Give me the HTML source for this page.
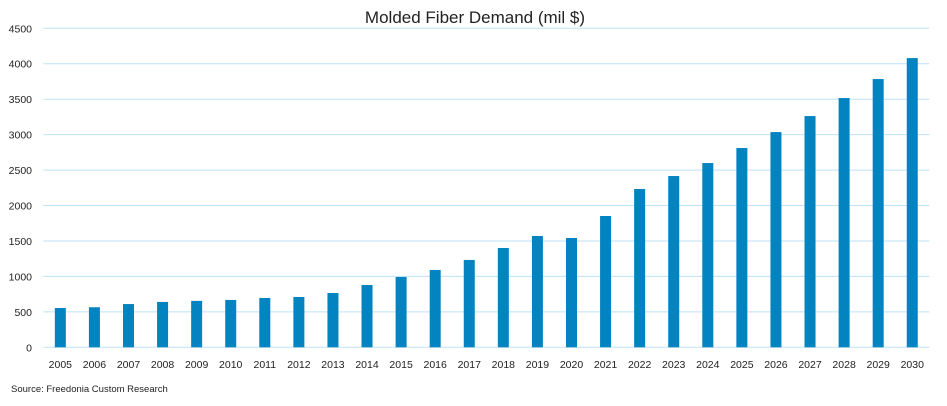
<!DOCTYPE html>
<html><head><meta charset="utf-8"><style>
body{margin:0;background:#fff;font-family:"Liberation Sans",sans-serif}
svg text{font-family:"Liberation Sans",sans-serif}
</style></head><body>
<svg width="947" height="401" xmlns="http://www.w3.org/2000/svg">
<text x="475" y="23" text-anchor="middle" font-size="17" fill="#222">Molded Fiber Demand (mil $)</text>
<g id="grid"></g><g id="bars"></g><g id="xl"></g><g id="yl"></g>
<text x="11" y="392" font-size="9.5" fill="#222">Source: Freedonia Custom Research</text>
</svg>
<script>
const categories=["2005","2006","2007","2008","2009","2010","2011","2012","2013","2014","2015","2016","2017","2018","2019","2020","2021","2022","2023","2024","2025","2026","2027","2028","2029","2030"];
const values=[554,565,610,640,655,668,696,710,766,879,992,1091,1232,1401,1570,1542,1852,2233,2416,2599,2811,3036,3262,3516,3784,4080];
const yTicks=[0,500,1000,1500,2000,2500,3000,3500,4000,4500];
const NS="http://www.w3.org/2000/svg";
const x0=43.3,x1=929.3,yTop=28.3,yBot=347.3,yMax=4500;
const slot=(x1-x0)/categories.length;
const y=v=>yBot-(v/yMax)*(yBot-yTop);
const xc=i=>x0+slot*(i+0.5);
function mk(t,a,p){const e=document.createElementNS(NS,t);for(const k in a)e.setAttribute(k,a[k]);document.getElementById(p).appendChild(e);return e;}
yTicks.forEach(t=>{
  const l=mk('line',{x1:x0,x2:x1,y1:y(t),y2:y(t),stroke:'#bde3f7','stroke-width':1},'grid');
  
  
  const tx=mk('text',{x:32,y:y(t)+4,'text-anchor':'end','font-size':10.5,fill:'#222'},'yl');
  tx.textContent=t;
  
  
});
categories.forEach((c,i)=>{
  const b=mk('rect',{x:xc(i)-5.5,y:y(values[i]),width:11,height:yBot-y(values[i]),fill:'#0383c0'},'bars');
  
  
  const tx=mk('text',{x:xc(i),y:368,'text-anchor':'middle','font-size':10.5,fill:'#222'},'xl');
  tx.textContent=c;
  
  
});
</script>
</body></html>
